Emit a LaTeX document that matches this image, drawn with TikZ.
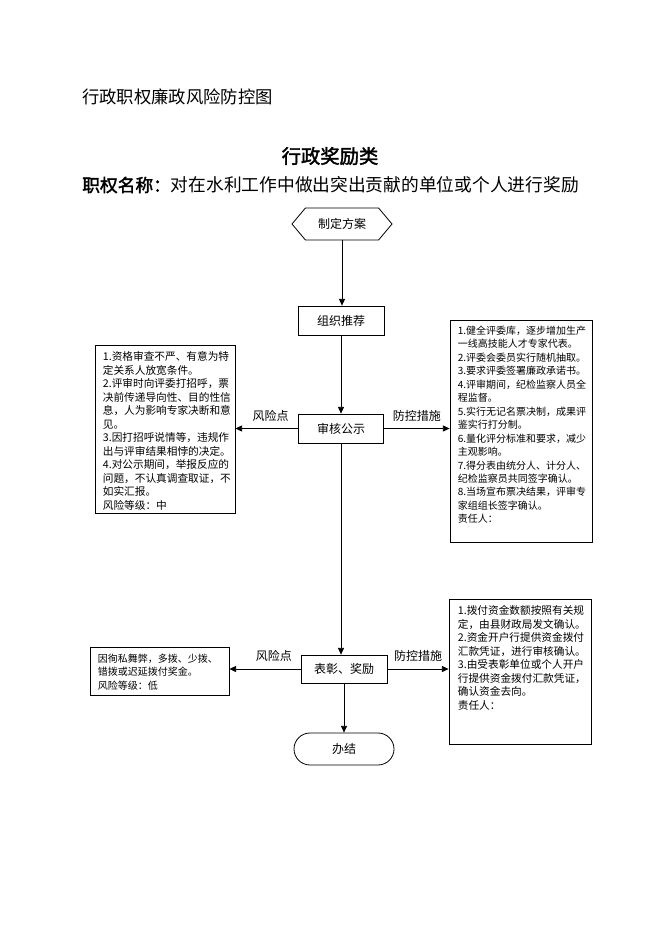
\documentclass[tikz,border=0pt]{standalone}
\usepackage{fontspec}
\setmainfont{Noto Sans CJK SC}[AutoFakeBold=2]
\usetikzlibrary{arrows.meta,shapes.symbols,shapes.misc}

\begin{document}
\begin{tikzpicture}[x=0.75pt,y=-0.75pt,
		flow/.style={draw,line width=0.6pt,font=\fontsize{9}{11}\selectfont,inner sep=0pt},
		frame/.style={draw,line width=0.6pt,inner sep=0pt},
		note/.style={anchor=north west,align=left,inner sep=0pt},
		tag/.style={font=\fontsize{9}{11}\selectfont,inner sep=0pt},
		arr/.style={line width=0.6pt,-{Triangle[length=5pt,width=4.5pt]}}]
	\useasboundingbox (0,0) rectangle (662,936);
	\node[anchor=west,inner sep=0pt,font=\fontsize{13}{15}\selectfont] (head) at (82,97) {行政职权廉政风险防控图};
	\node[inner sep=0pt,font=\fontsize{14.5}{17}\selectfont\bfseries] (kind) at (330,156) {行政奖励类};
	\node[anchor=west,inner sep=0pt,font=\fontsize{13.3}{16}\selectfont] (duty) at (82,185) {\textbf{职权名称：}对在水利工作中做出突出贡献的单位或个人进行奖励};

	\node[flow,signal,signal to=west and east,signal pointer angle=100,minimum width=75pt,minimum height=24pt] (plan) at (342,224) {制定方案};
	\node[flow,minimum width=64.5pt,minimum height=21.75pt] (recom) at (341,320.5) {组织推荐};
	\node[flow,minimum width=63.75pt,minimum height=21.75pt] (audit) at (341,428.5) {审核公示};
	\node[flow,minimum width=64.5pt,minimum height=21pt] (award) at (344,669) {表彰、奖励};
	\node[flow,rounded rectangle,minimum width=75pt,minimum height=24pt] (done) at (344,749) {办结};

	\node[frame,minimum width=105pt,minimum height=126pt] (riskA) at (165,429) {};
	\node[frame,minimum width=106.5pt,minimum height=166.5pt] (ctrlA) at (521,431) {};
	\node[frame,minimum width=104.25pt,minimum height=36pt] (riskB) at (159.5,671) {};
	\node[frame,minimum width=106.5pt,minimum height=108.75pt] (ctrlB) at (520,671.5) {};

	\node[note,font=\fontsize{8}{10.1}\selectfont] (riskAtext) at ([shift={(8,7)}]riskA.north west) {1.资格审查不严、有意为特\\定关系人放宽条件。\\2.评审时向评委打招呼，票\\决前传递导向性、目的性信\\息，人为影响专家决断和意\\见。\\3.因打招呼说情等，违规作\\出与评审结果相悖的决定。\\4.对公示期间，举报反应的\\问题，不认真调查取证，不\\如实汇报。\\风险等级：中};
	\node[note,font=\fontsize{7.5}{10.1}\selectfont] (ctrlAtext) at ([shift={(8,6)}]ctrlA.north west) {1.健全评委库，逐步增加生产\\一线高技能人才专家代表。\\2.评委会委员实行随机抽取。\\3.要求评委签署廉政承诺书。\\4.评审期间，纪检监察人员全\\程监督。\\5.实行无记名票决制，成果评\\鉴实行打分制。\\6.量化评分标准和要求，减少\\主观影响。\\7.得分表由统分人、计分人、\\纪检监察员共同签字确认。\\8.当场宣布票决结果，评审专\\家组组长签字确认。\\责任人：};
	\node[note,font=\fontsize{7.5}{10.1}\selectfont] (riskBtext) at ([shift={(8,7)}]riskB.north west) {因徇私舞弊，多拨、少拨、\\错拨或迟延拨付奖金。\\风险等级：低};
	\node[note,font=\fontsize{8}{10.1}\selectfont] (ctrlBtext) at ([shift={(9,7)}]ctrlB.north west) {1.拨付资金数额按照有关规\\定，由县财政局发文确认。\\2.资金开户行提供资金拨付\\汇款凭证，进行审核确认。\\3.由受表彰单位或个人开户\\行提供资金拨付汇款凭证，\\确认资金去向。\\责任人：};

	\draw[arr] (plan.south) -- (plan.south |- recom.north);
	\draw[arr] (recom.south) -- (recom.south |- audit.north);
	\draw[arr] (audit.south) -- (audit.south |- award.north);
	\draw[arr] (award.south) -- (done.north);
	\draw[arr] (audit.west) -- (audit.west -| riskA.east) node[tag,pos=0.44,above=5pt] {风险点};
	\draw[arr] (audit.east) -- (audit.east -| ctrlA.west) node[tag,midway,above=5pt] {防控措施};
	\draw[arr] (award.west) -- (award.west -| riskB.east) node[tag,pos=0.375,above=5pt] {风险点};
	\draw[arr] (award.east) -- (award.east -| ctrlB.west) node[tag,midway,above=5pt] {防控措施};
\end{tikzpicture}
\end{document}
